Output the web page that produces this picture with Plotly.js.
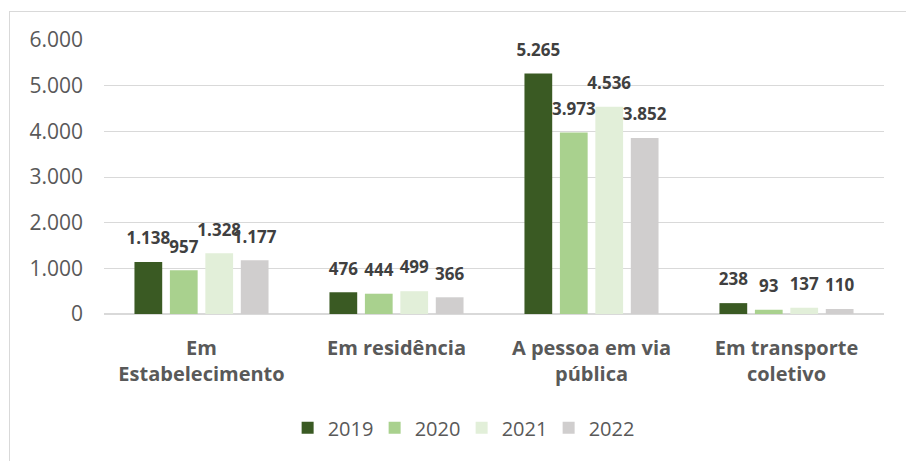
<!DOCTYPE html>
<html>
<head>
<meta charset="utf-8">
<script src="https://cdn.plot.ly/plotly-3.0.1.min.js"></script>
<style>
  html, body { margin: 0; padding: 0; background: #ffffff; }
  #wrap { position: relative; width: 906px; height: 461px; overflow: hidden; }
  #chart { position: absolute; left: 0; top: 0; width: 906px; height: 461px; }
  #frame { position: absolute; left: 9px; top: 11px; width: 920px; height: 480px;
           border: 1px solid #d9d9d9; pointer-events: none; box-sizing: border-box; }
</style>
</head>
<body>
<div id="wrap">
  <div id="chart"></div>
  <div id="frame"></div>
</div>
<script>
const categories = ["Em<br>Estabelecimento", "Em residência", "A pessoa em via<br>pública", "Em transporte<br>coletivo"];
const seriesNames = ["2019", "2020", "2021", "2022"];
const values2019 = [1138, 476, 5265, 238];
const values2020 = [957, 444, 3973, 93];
const values2021 = [1328, 499, 4536, 137];
const values2022 = [1177, 366, 3852, 110];
const yTickValues = [0, 1000, 2000, 3000, 4000, 5000, 6000];

const seriesValues = [values2019, values2020, values2021, values2022];
const colors = ["#3a5a23", "#a9d18e", "#e2efd9", "#d0cece"];
const FONT = "Open Sans, Noto Sans, sans-serif";

const traces = [];
seriesValues.forEach((vals, i) => {
  traces.push({
    type: "bar",
    name: seriesNames[i],
    x: categories,
    y: vals,
    marker: { color: colors[i] },
    hoverinfo: "x+y+name"
  });
});
seriesValues.forEach((vals, i) => {
  traces.push({
    type: "scatter",
    mode: "markers+text",
    x: categories,
    y: vals,
    showlegend: false,
    hoverinfo: "skip",
    marker: { size: 20, opacity: 0, color: colors[i] },
    texttemplate: "%{y:,}",
    textposition: "top center",
    textfont: { family: FONT, size: 17, color: "#404040", weight: "bold" },
    cliponaxis: false
  });
});

const layout = {
  width: 906,
  height: 461,
  margin: { l: 104, r: 22, t: 39.5, b: 146.5 },
  paper_bgcolor: "#ffffff",
  plot_bgcolor: "#ffffff",
  separators: ",.",
  barmode: "group",
  bargap: 0.273,
  bargroupgap: 0.217,
  scattermode: "group",
  scattergap: 0.273,
  font: { family: FONT, color: "#595959" },
  showlegend: true,
  legend: {
    orientation: "h",
    x: 0.4585, xanchor: "center",
    y: -0.415, yanchor: "middle",
    entrywidth: 42,
    entrywidthmode: "pixels",
    font: { family: FONT, size: 20, color: "#595959" },
    traceorder: "normal"
  },
  xaxis: {
    type: "category",
    showgrid: false,
    showline: false,
    ticks: "",
    ticklabelstandoff: 20,
    tickfont: { family: FONT, size: 20, color: "#595959", weight: "bold" },
    fixedrange: true
  },
  yaxis: {
    range: [0, 6000],
    tickvals: yTickValues,
    tickformat: ",",
    showgrid: true,
    gridcolor: "#d9d9d9",
    gridwidth: 1,
    zeroline: true,
    zerolinecolor: "#d9d9d9",
    zerolinewidth: 1.5,
    showline: false,
    ticks: "",
    ticklabelstandoff: 20,
    tickfont: { family: FONT, size: 21, color: "#595959" },
    fixedrange: true
  }
};

Plotly.newPlot("chart", traces, layout, { displayModeBar: false, staticPlot: true });
</script>
</body>
</html>
